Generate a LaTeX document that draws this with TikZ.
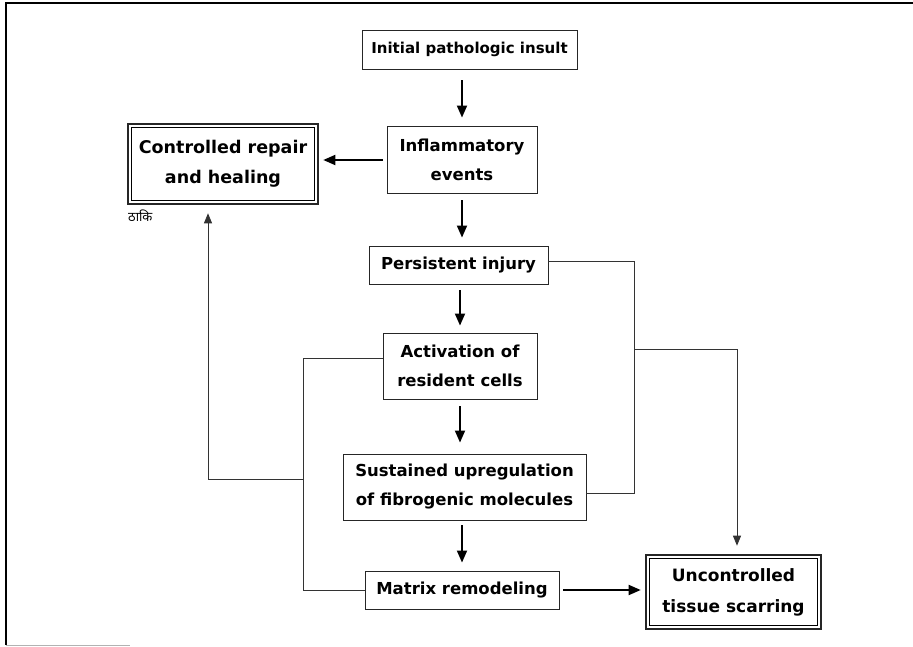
\documentclass[tikz,border=0pt]{standalone}
\usepackage{fontspec}
\setmainfont{DejaVu Sans}
\newfontfamily\devfont[Script=Devanagari]{Noto Sans}
\usetikzlibrary{arrows.meta,calc}
\begin{document}
\begin{tikzpicture}[x=1pt,y=-1pt,
  box/.style={draw=black!85, line width=0.9pt, align=center, inner sep=0pt,
    font=\fontsize{16.5}{29}\selectfont\bfseries},
  dbox/.style={box, line width=2.6pt},
  arr/.style={line width=1.8pt, -{Triangle[length=12pt,width=10pt]}},
  link/.style={line width=0.8pt, draw=black!80},
  linkarr/.style={link, -{Triangle[length=10pt,width=8pt]}},
]
\useasboundingbox (0,0) rectangle (913,647);
\fill[white] (0,0) rectangle (913,647);

% outer frame
\draw[line width=2.5pt] (6,645) -- (6,3) -- (913,3);
\draw[gray!60, line width=1pt] (6,645.5) -- (130,645.5);

% nodes
\node[box, minimum width=215pt, minimum height=39pt, font=\fontsize{15}{29}\selectfont\bfseries] (init) at (469.5,49.5) {Initial pathologic insult};
\node[box, minimum width=150pt, minimum height=67pt] (infl) at (462,159.5) {Inflammatory\\events};
\node[box, minimum width=179pt, minimum height=38pt] (pers) at (458.5,265) {Persistent injury};
\node[dbox, minimum width=190pt, minimum height=80pt, font=\fontsize{17.5}{30}\selectfont\bfseries] (ctrl) at (223,164) {Controlled repair\\and healing};
\node[box, minimum width=154pt, minimum height=66pt] (act) at (460,366) {Activation of\\resident cells};
\node[box, minimum width=243pt, minimum height=66pt] (sust) at (464.5,487) {Sustained upregulation\\of fibrogenic molecules};
\node[box, minimum width=194pt, minimum height=38pt] (mat) at (462,590) {Matrix remodeling};
\node[dbox, minimum width=175pt, minimum height=74pt, font=\fontsize{17}{31}\selectfont\bfseries] (unc) at (733.5,592) {Uncontrolled\\tissue scarring};

% inner lines of double boxes
\draw[line width=0.7pt] ([shift={(4.5,4.5)}]ctrl.north west) rectangle ([shift={(-4.5,-4.5)}]ctrl.south east);
\draw[line width=0.7pt] ([shift={(4.5,4.5)}]unc.north west) rectangle ([shift={(-4.5,-4.5)}]unc.south east);

\node[font=\devfont\fontsize{13}{13}\selectfont, anchor=west, inner sep=0pt] (sig) at (128,216) {ठाकि};

% main arrows
\draw[arr, shorten <=11pt, shorten >=8pt] (init.south -| infl.north) -- (infl.north);
\draw[arr, shorten <=7pt, shorten >=8pt] (infl.south) -- (infl.south |- pers.north);
\draw[arr, shorten <=6pt, shorten >=7pt] (act.north |- pers.south) -- (act.north);
\draw[arr, shorten <=7pt, shorten >=11pt] (act.south) -- (act.south |- sust.north);
\draw[arr, shorten <=5pt, shorten >=8pt] (sust.south -| mat.north) -- (mat.north);
\draw[arr, shorten <=4pt, shorten >=4pt] ([yshift=-0.5pt]infl.west) -- ([yshift=-0.5pt]infl.west -| ctrl.east);
\draw[arr, shorten <=4pt, shorten >=4pt] (mat.east) -- (mat.east -| unc.west);

% left bracket
\coordinate (lt) at ([yshift=8pt]act.west);
\coordinate (lv) at (303,358);
\coordinate (lj) at (303,479);
\coordinate (lc) at (208,479);
\draw[link] (lt) -- (lv) |- (mat.west);
\draw[linkarr, shorten >=8pt] (lj) -- (lc) -- (lc |- ctrl.south);

% right bracket
\coordinate (rt) at (634,261);
\coordinate (rb) at (634,493);
\coordinate (rj) at (634,349);
\coordinate (rc) at (737,349);
\draw[link] ([yshift=4pt]pers.east) -- (rt) -- (rb) -- ([yshift=-6pt]sust.east);
\draw[linkarr, shorten >=8pt] (rj) -- (rc) -- (rc |- unc.north);
\end{tikzpicture}
\end{document}
